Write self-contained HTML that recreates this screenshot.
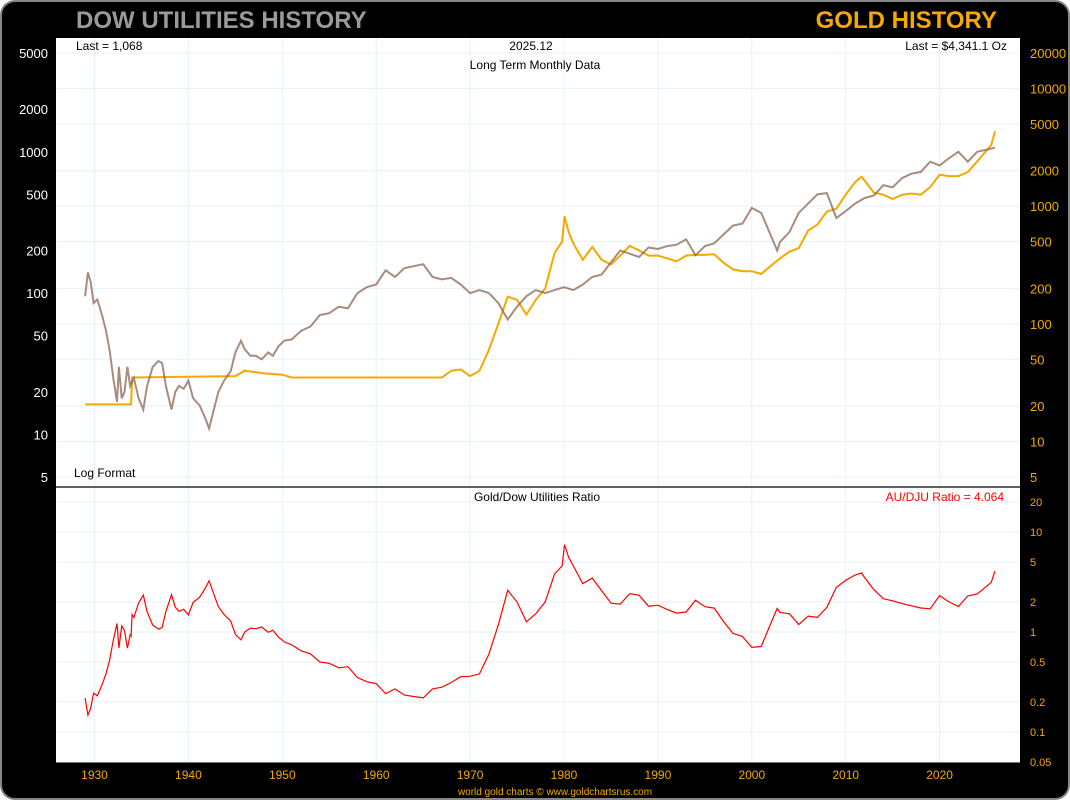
<!DOCTYPE html>
<html><head><meta charset="utf-8"><style>
body{margin:0;background:#fff;width:1070px;height:800px;overflow:hidden}
svg{display:block;font-family:"Liberation Sans",sans-serif}
</style></head><body>
<svg id="c" width="1070" height="800" viewBox="0 0 1070 800">
<rect x="1" y="1" width="1068" height="798" rx="14" fill="#000" stroke="#888" stroke-width="2"/>
<text x="76" y="28" font-size="24" font-weight="bold" fill="#9a9a9a">DOW UTILITIES HISTORY</text>
<text x="997" y="28" font-size="24" font-weight="bold" fill="#f5a800" text-anchor="end">GOLD HISTORY</text>
<rect x="56" y="38" width="964" height="449" fill="#fff"/>
<rect x="56" y="487" width="964" height="275" fill="#fff"/>
<g id="grid"></g>
<g id="ticks"></g>
<g id="series"></g>
<line x1="56" y1="487" x2="1020" y2="487" stroke="#000" stroke-width="1.2"/>
<text x="76" y="50" font-size="12" fill="#000">Last = 1,068</text>
<text x="531" y="50" font-size="12" fill="#000" text-anchor="middle">2025.12</text>
<text x="535" y="69" font-size="12" fill="#000" text-anchor="middle">Long Term Monthly Data</text>
<text x="1007" y="50" font-size="12" fill="#000" text-anchor="end">Last = $4,341.1 Oz</text>
<text x="74" y="477" font-size="12" fill="#000">Log Format</text>
<text x="537" y="501" font-size="12" fill="#000" text-anchor="middle">Gold/Dow Utilities Ratio</text>
<text x="1004" y="501" font-size="12" fill="#f00" text-anchor="end">AU/DJU Ratio = 4.064</text>
<text x="555" y="795" font-size="10" fill="#f5a800" text-anchor="middle">world gold charts © www.goldchartsrus.com</text>
</svg>
<script>
const djuYears=[1929.0,1929.3,1929.6,1929.9,1930.3,1930.8,1931.2,1931.6,1932.0,1932.4,1932.6,1932.9,1933.2,1933.5,1933.8,1934.2,1934.7,1935.2,1935.6,1936.2,1936.8,1937.2,1937.6,1938.2,1938.6,1939.0,1939.5,1940.0,1940.5,1941.2,1941.8,1942.2,1942.6,1943.2,1943.8,1944.5,1945.0,1945.6,1946.0,1946.6,1947.2,1947.8,1948.5,1949.0,1949.6,1950.2,1951,1952,1953,1954,1955,1956,1957,1958,1959,1960,1961,1962,1963,1964,1965,1966,1967,1968,1969,1970,1971,1972,1973,1974,1975,1976,1977,1978,1979,1980,1981,1982,1983,1984,1985,1986,1987,1988,1989,1990,1991,1992,1993,1994,1995,1996,1997,1998,1999,2000,2001,2002.7,2003,2004,2005,2006,2007,2008,2009,2010,2011,2012,2013,2014,2015,2016,2017,2018,2019,2020,2021,2022,2023,2024,2025.9];
const djuValues=[95,140,120,85,90,70,55,40,25,17,30,18,20,30,22,25,18,15,22,30,33,32,22,15,20,22,21,24,18,16,13,11,14,20,24,28,38,46,40,36,36,34,38,36,42,46,47,54,58,70,72,80,78,100,110,115,145,130,150,155,160,130,125,128,115,100,105,100,85,65,80,95,105,100,105,110,105,115,130,135,165,200,190,180,210,205,215,220,240,185,215,225,260,300,310,400,370,200,230,270,370,430,500,510,340,380,430,470,490,580,560,650,700,720,850,800,900,1000,850,1000,1068];
const goldYears=[1929,1933.9,1934.0,1945,1946,1948,1950,1951,1955,1967,1968,1969,1970,1971,1972,1973,1974,1975,1976,1977,1978,1979,1979.8,1980.05,1980.5,1981,1982,1983,1984,1985,1986,1987,1988,1989,1990,1991,1992,1993,1994,1995,1996,1997,1998,1999,2000,2001,2002,2003,2004,2005,2006,2007,2008,2009,2010,2011,2011.7,2012,2013,2014,2015,2016,2017,2018,2019,2020,2021,2022,2023,2024,2025.5,2025.9];
const goldValues=[20.67,20.67,35,36,40,38,37,35,35,35,40,41,36,40,60,100,170,160,120,160,200,400,500,820,600,480,350,450,350,320,380,460,420,380,380,360,340,380,385,385,390,330,290,280,280,265,310,360,410,440,620,700,900,950,1250,1600,1780,1650,1300,1250,1150,1250,1280,1250,1450,1850,1800,1800,1950,2400,3300,4341];
const xTicks=[1930,1940,1950,1960,1970,1980,1990,2000,2010,2020];
const djuTicks=[5000,2000,1000,500,200,100,50,20,10,5];
const goldTicks=[20000,10000,5000,2000,1000,500,200,100,50,20,10,5];
const ratioTicks=[20,10,5,2,1,0.5,0.2,0.1,0.05];

const X=y=>94.5+(y-1930)*9.39;
const YD=v=>53+(Math.log10(5000)-Math.log10(v))*141.3;
const YG=v=>53+(Math.log10(20000)-Math.log10(v))*117.7;
const YR=v=>502+(Math.log10(20)-Math.log10(v))*99.9;
const NS='http://www.w3.org/2000/svg';
function mk(t,a,p){const e=document.createElementNS(NS,t);for(const k in a)e.setAttribute(k,a[k]);p.appendChild(e);return e;}
const grid=document.getElementById('grid'),ticks=document.getElementById('ticks'),ser=document.getElementById('series');
xTicks.forEach(t=>{
 const l=mk('line',{x1:X(t),x2:X(t),y1:38,y2:762,stroke:'#e4f2f8'},grid);
 
 
 const tx=mk('text',{x:X(t),y:779,'font-size':12,fill:'#f5a800','text-anchor':'middle'},ticks);tx.textContent=t;
 
 
});
goldTicks.forEach(t=>{
 const y=YG(t);
 const l=mk('line',{x1:56,x2:1020,y1:y,y2:y,stroke:'#e4f2f8'},grid);
 
 
 const tx=mk('text',{x:1030,y:y+5,'font-size':13,fill:'#f5a800'},ticks);tx.textContent=t;
 
 
});
djuTicks.forEach(t=>{
 const tx=mk('text',{x:48,y:YD(t)+5,'font-size':13,fill:'#fff','text-anchor':'end'},ticks);tx.textContent=t;
 
 
});
ratioTicks.forEach(t=>{
 const y=YR(t);
 const l=mk('line',{x1:56,x2:1020,y1:y,y2:y,stroke:'#e4f2f8'},grid);
 
 
 const tx=mk('text',{x:1030,y:y+4,'font-size':11,fill:'#f5a800'},ticks);tx.textContent=t;
 
 
});
function interp(xs,vs,x){
 if(x<=xs[0])return vs[0];
 for(let i=1;i<xs.length;i++){if(x<=xs[i]){const f=(x-xs[i-1])/(xs[i]-xs[i-1]);return Math.pow(10,Math.log10(vs[i-1])*(1-f)+Math.log10(vs[i])*f);}}
 return vs[vs.length-1];
}
const gp=goldYears.map((y,i)=>X(y).toFixed(1)+','+YG(goldValues[i]).toFixed(1)).join(' ');
const dp=djuYears.map((y,i)=>X(y).toFixed(1)+','+YD(djuValues[i]).toFixed(1)).join(' ');
const g=mk('polyline',{points:gp,fill:'none',stroke:'#f5a800','stroke-width':2},ser);


const d=mk('polyline',{points:dp,fill:'none',stroke:'#8b6553','stroke-opacity':0.75,'stroke-width':2},ser);


const allYears=[...new Set([...djuYears,...goldYears])].sort((a,b)=>a-b);
const rp=allYears.map(y=>X(y).toFixed(1)+','+YR(interp(goldYears,goldValues,y)/interp(djuYears,djuValues,y)).toFixed(1)).join(' ');
const r=mk('polyline',{points:rp,fill:'none',stroke:'#f00','stroke-width':1.2},ser);


</script>
</body></html>
